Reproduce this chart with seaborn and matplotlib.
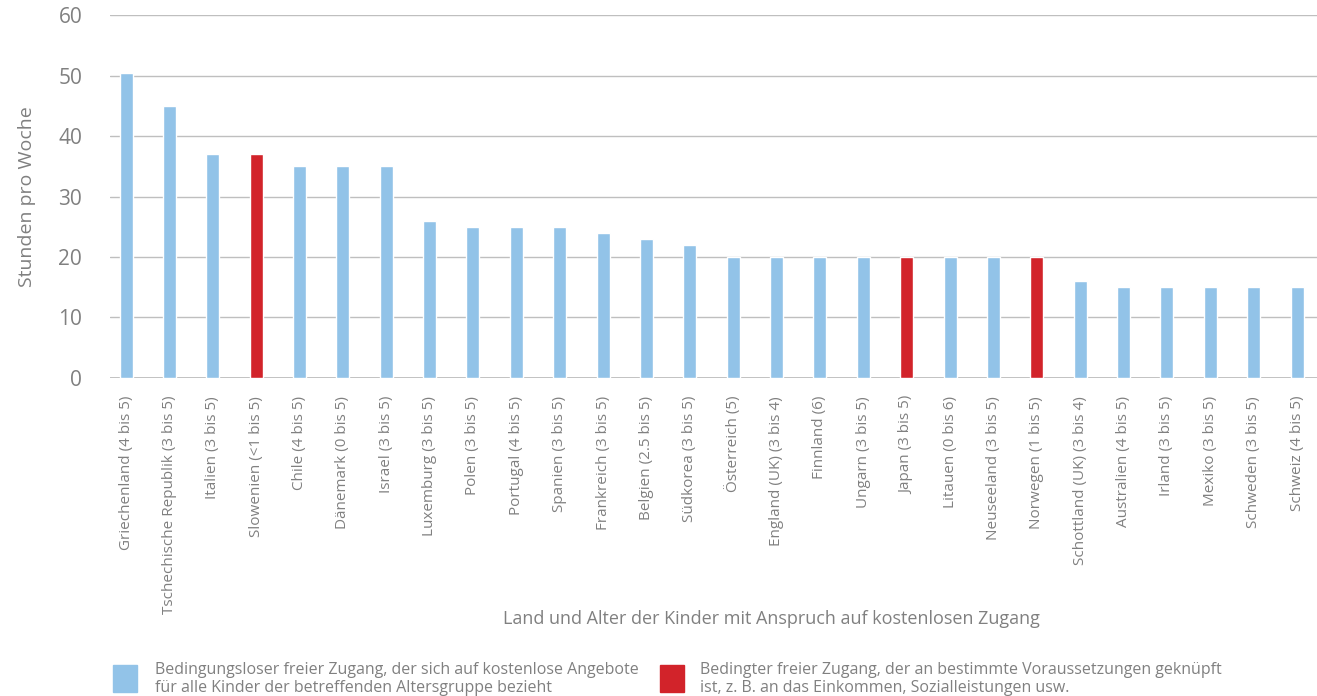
import matplotlib
matplotlib.use("Agg")
import matplotlib.pyplot as plt
import matplotlib.patches as mpatches
import seaborn as sns
import pandas as pd

# Daten
laender = ["Griechenland (4 bis 5)", "Tschechische Republik (3 bis 5)", "Italien (3 bis 5)",
           "Slowenien (<1 bis 5)", "Chile (4 bis 5)", "Dänemark (0 bis 5)", "Israel (3 bis 5)",
           "Luxemburg (3 bis 5)", "Polen (3 bis 5)", "Portugal (4 bis 5)", "Spanien (3 bis 5)",
           "Frankreich (3 bis 5)", "Belgien (2.5 bis 5)", "Südkorea (3 bis 5)", "Österreich (5)",
           "England (UK) (3 bis 4)", "Finnland (6)", "Ungarn (3 bis 5)", "Japan (3 bis 5)",
           "Litauen (0 bis 6)", "Neuseeland (3 bis 5)", "Norwegen (1 bis 5)",
           "Schottland (UK) (3 bis 4)", "Australien (4 bis 5)", "Irland (3 bis 5)",
           "Mexiko (3 bis 5)", "Schweden (3 bis 5)", "Schweiz (4 bis 5)"]
stunden = [50.5, 45, 37, 37, 35, 35, 35, 26, 25, 25, 25, 24, 23, 22, 20,
           20, 20, 20, 20, 20, 20, 20, 16, 15, 15, 15, 15, 15]
bedingt = [False, False, False, True, False, False, False, False, False, False, False,
           False, False, False, False, False, False, False, True, False, False, True,
           False, False, False, False, False, False]

label_frei = "Bedingungsloser freier Zugang, der sich auf kostenlose Angebote\nfür alle Kinder der betreffenden Altersgruppe bezieht"
label_bedingt = "Bedingter freier Zugang, der an bestimmte Voraussetzungen geknüpft\nist, z. B. an das Einkommen, Sozialleistungen usw."

blau = "#92C3E8"
rot = "#D2232A"
grau = "#808080"

df = pd.DataFrame({"land": laender, "stunden": stunden,
                   "typ": ["bedingt" if b else "frei" for b in bedingt]})

sns.set_theme(style="white")
plt.rcParams['font.family'] = ['Open Sans', 'DejaVu Sans']

fig = plt.figure(figsize=(13.17, 6.96), dpi=100)
ax = fig.add_axes([0.0835, 0.457, 0.9165, 0.521])

sns.barplot(data=df, x="land", y="stunden", hue="typ",
            palette={"frei": blau, "bedingt": rot}, dodge=False,
            width=0.3, legend=False, ax=ax, saturation=1)

ax.set_ylim(0, 60)
ax.set_yticks(range(0, 61, 10))
ax.set_xlim(-0.37, 27.46)
ax.yaxis.grid(True, color="#BFBFBF", linewidth=1)
ax.set_axisbelow(True)
for s in ax.spines.values():
    s.set_visible(False)
ax.axhline(0, color="#BFBFBF", linewidth=1.3, zorder=0.5)

ax.tick_params(axis="y", length=0, pad=20, labelsize=15, labelcolor=grau)
ax.tick_params(axis="x", length=0, pad=13, labelsize=11, labelcolor=grau)
ax.set_xticks(range(len(laender)))
ax.set_xticklabels(laender, rotation=90, va="top", ha="center")

ax.set_ylabel("Stunden pro Woche", fontsize=14, color=grau, labelpad=16)
ax.set_xlabel("Land und Alter der Kinder mit Anspruch auf kostenlosen Zugang",
              fontsize=13, color=grau, labelpad=14)
ax.xaxis.set_label_coords(0.548, -0.64)

# Legende unten
fig.patches.append(mpatches.Rectangle((113 / 1317, 1 - 692 / 696), 24 / 1317, 27 / 696,
                                      transform=fig.transFigure, color=blau, figure=fig))
fig.patches.append(mpatches.Rectangle((660 / 1317, 1 - 692 / 696), 24 / 1317, 27 / 696,
                                      transform=fig.transFigure, color=rot, figure=fig))
fig.text(155 / 1317, 1 - 679 / 696, label_frei, fontsize=11.5, color=grau,
         va="center", ha="left", linespacing=1.15)
fig.text(700 / 1317, 1 - 679 / 696, label_bedingt, fontsize=11.5, color=grau,
         va="center", ha="left", linespacing=1.15)

fig.savefig("out.png", dpi=100, facecolor="white")
